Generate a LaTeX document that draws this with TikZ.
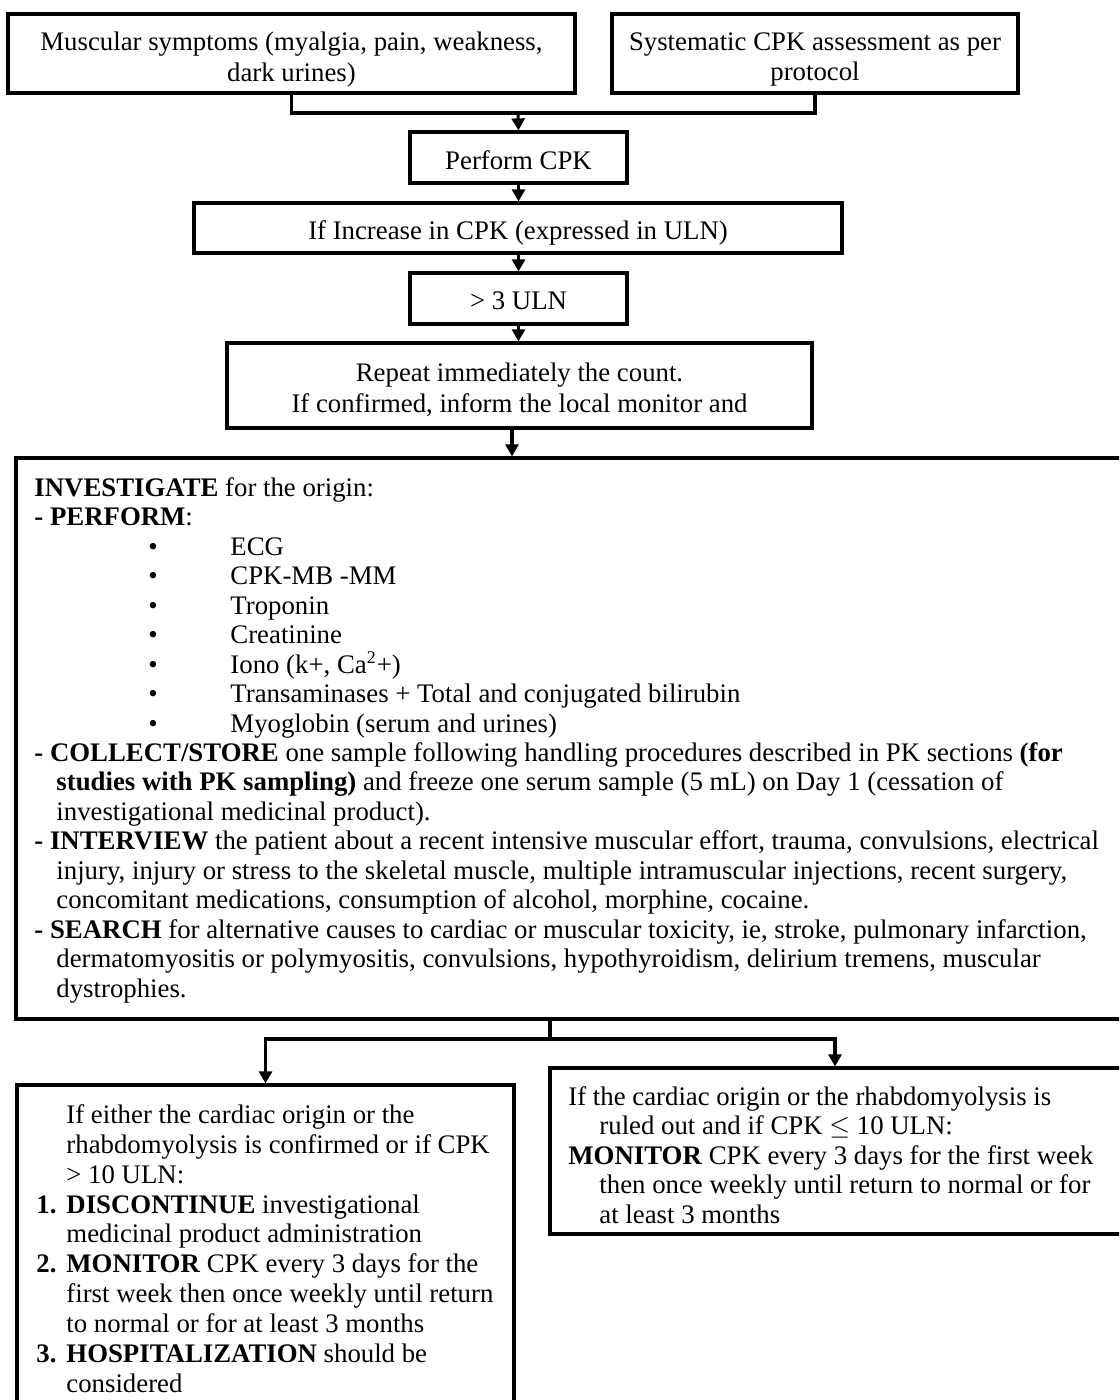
\documentclass[tikz,border=0pt]{standalone}
\usepackage{fontspec}
\setmainfont{Liberation Serif}
\usetikzlibrary{arrows.meta}
\newlength\pxu
\setlength\pxu{0.448pt}
\begin{document}
\begin{tikzpicture}[x=0.448pt,y=-0.448pt,
  box/.style={draw, line width=1.4pt, inner sep=0pt},
  lbl/.style={inner sep=0pt, align=center, font=\fontsize{12}{13.8}\selectfont},
  conn/.style={line width=1.4pt},
  arr/.style={conn, -{Triangle[length=5.4pt,width=5.8pt]}},
  txt/.style={inner sep=0pt, align=left, anchor=north west}]
\clip (0,0) rectangle (1119,1400);
\fill[white] (0,0) rectangle (1119,1400);

% top boxes
\node[box, minimum width=567\pxu, minimum height=79\pxu] (sym) at (291.5,53.5) {};
\node[lbl] (symt) at ([yshift=-6\pxu]sym.center) {Muscular symptoms (myalgia, pain, weakness,\\dark urines)};
\node[box, minimum width=406\pxu, minimum height=79\pxu] (sys) at (815,53.5) {};
\node[lbl] (syst) at ([yshift=-6\pxu]sys.center) {Systematic CPK assessment as per\\protocol};
\node[box, minimum width=217\pxu, minimum height=51\pxu] (perf) at (518.5,157.5) {};
\node[lbl] (perft) at ([yshift=-3\pxu]perf.center) {Perform CPK};
\node[box, minimum width=648\pxu, minimum height=50\pxu] (inc) at (518,228) {};
\node[lbl] (inct) at ([yshift=-5\pxu]inc.center) {If Increase in CPK (expressed in ULN)};
\node[box, minimum width=217\pxu, minimum height=51\pxu] (uln) at (518.5,298.5) {};
\node[lbl] (ulnt) at ([yshift=-2\pxu]uln.center) {> 3 ULN};
\node[box, minimum width=585\pxu, minimum height=85\pxu] (rep) at (519.5,385.5) {};
\node[lbl, font=\fontsize{12}{14}\selectfont] (rept) at ([yshift=-4\pxu]rep.center)
  {Repeat immediately the count.\\If confirmed, inform the local monitor and};

% investigate box
\node[box, minimum width=1114\pxu, minimum height=561\pxu] (inv) at (573,738.5) {};
\node[txt, font=\fontsize{12}{13.2}\selectfont] (invt) at (34,477) {%
\textbf{INVESTIGATE} for the origin:\\
\textbf{- PERFORM}:\\
\hspace*{114\pxu}\makebox[82\pxu][l]{\textbullet}ECG\\
\hspace*{114\pxu}\makebox[82\pxu][l]{\textbullet}CPK-MB -MM\\
\hspace*{114\pxu}\makebox[82\pxu][l]{\textbullet}Troponin\\
\hspace*{114\pxu}\makebox[82\pxu][l]{\textbullet}Creatinine\\
\hspace*{114\pxu}\makebox[82\pxu][l]{\textbullet}Iono (k+, Ca\textsuperscript{2}+)\\
\hspace*{114\pxu}\makebox[82\pxu][l]{\textbullet}Transaminases + Total and conjugated bilirubin\\
\hspace*{114\pxu}\makebox[82\pxu][l]{\textbullet}Myoglobin (serum and urines)\\
\textbf{- COLLECT/STORE} one sample following handling procedures described in PK sections \textbf{(for}\\
\hspace*{22\pxu}\textbf{studies with PK sampling)} and freeze one serum sample (5 mL) on Day 1 (cessation of\\
\hspace*{22\pxu}investigational medicinal product).\\
\textbf{- INTERVIEW} the patient about a recent intensive muscular effort, trauma, convulsions, electrical\\
\hspace*{22\pxu}injury, injury or stress to the skeletal muscle, multiple intramuscular injections, recent surgery,\\
\hspace*{22\pxu}concomitant medications, consumption of alcohol, morphine, cocaine.\\
\textbf{- SEARCH} for alternative causes to cardiac or muscular toxicity, ie, stroke, pulmonary infarction,\\
\hspace*{22\pxu}dermatomyositis or polymyositis, convulsions, hypothyroidism, delirium tremens, muscular\\
\hspace*{22\pxu}dystrophies.};

% bottom boxes
\node[box, minimum width=497\pxu, minimum height=330\pxu] (lb) at (265.5,1250) {};
\node[txt, font=\fontsize{12}{13.4}\selectfont] (lbt) at (36,1104) {%
\hspace*{30\pxu}If either the cardiac origin or the\\
\hspace*{30\pxu}rhabdomyolysis is confirmed or if CPK\\
\hspace*{30\pxu}> 10 ULN:\\
\makebox[30\pxu][l]{\textbf{1.}}\textbf{DISCONTINUE} investigational\\
\hspace*{30\pxu}medicinal product administration\\
\makebox[30\pxu][l]{\textbf{2.}}\textbf{MONITOR} CPK every 3 days for the\\
\hspace*{30\pxu}first week then once weekly until return\\
\hspace*{30\pxu}to normal or for at least 3 months\\
\makebox[30\pxu][l]{\textbf{3.}}\textbf{HOSPITALIZATION} should be\\
\hspace*{30\pxu}considered};

\node[box, minimum width=580\pxu, minimum height=166\pxu] (rb) at (840,1151) {};
\node[txt, font=\fontsize{12}{13.2}\selectfont] (rbt) at (568,1086) {%
If the cardiac origin or the rhabdomyolysis is\\
\hspace*{31\pxu}ruled out and if CPK $\leq$ 10 ULN:\\
\textbf{MONITOR} CPK every 3 days for the first week\\
\hspace*{31\pxu}then once weekly until return to normal or for\\
\hspace*{31\pxu}at least 3 months};

% connectors
\coordinate (j1) at (518,113);
\coordinate (split) at (550,1039);
\draw[conn] (sym.south) |- (j1);
\draw[conn] (sys.south) |- (j1);
\draw[arr] (j1) -- (perf.north);
\draw[arr] (perf.south) -- (inc.north -| perf.south);
\draw[arr] (inc.south -| uln.north) -- (uln.north);
\draw[arr] (uln.south) -- (uln.south |- rep.north);
\draw[arr] ([xshift=-7.5\pxu]rep.south) -- ([xshift=-7.5\pxu]rep.south |- inv.north);
\draw[conn] (inv.south -| split) -- (split);
\draw[arr] (split) -| (lb.north);
\draw[arr] (split) -| ([xshift=-5\pxu]rb.north);
\end{tikzpicture}
\end{document}
